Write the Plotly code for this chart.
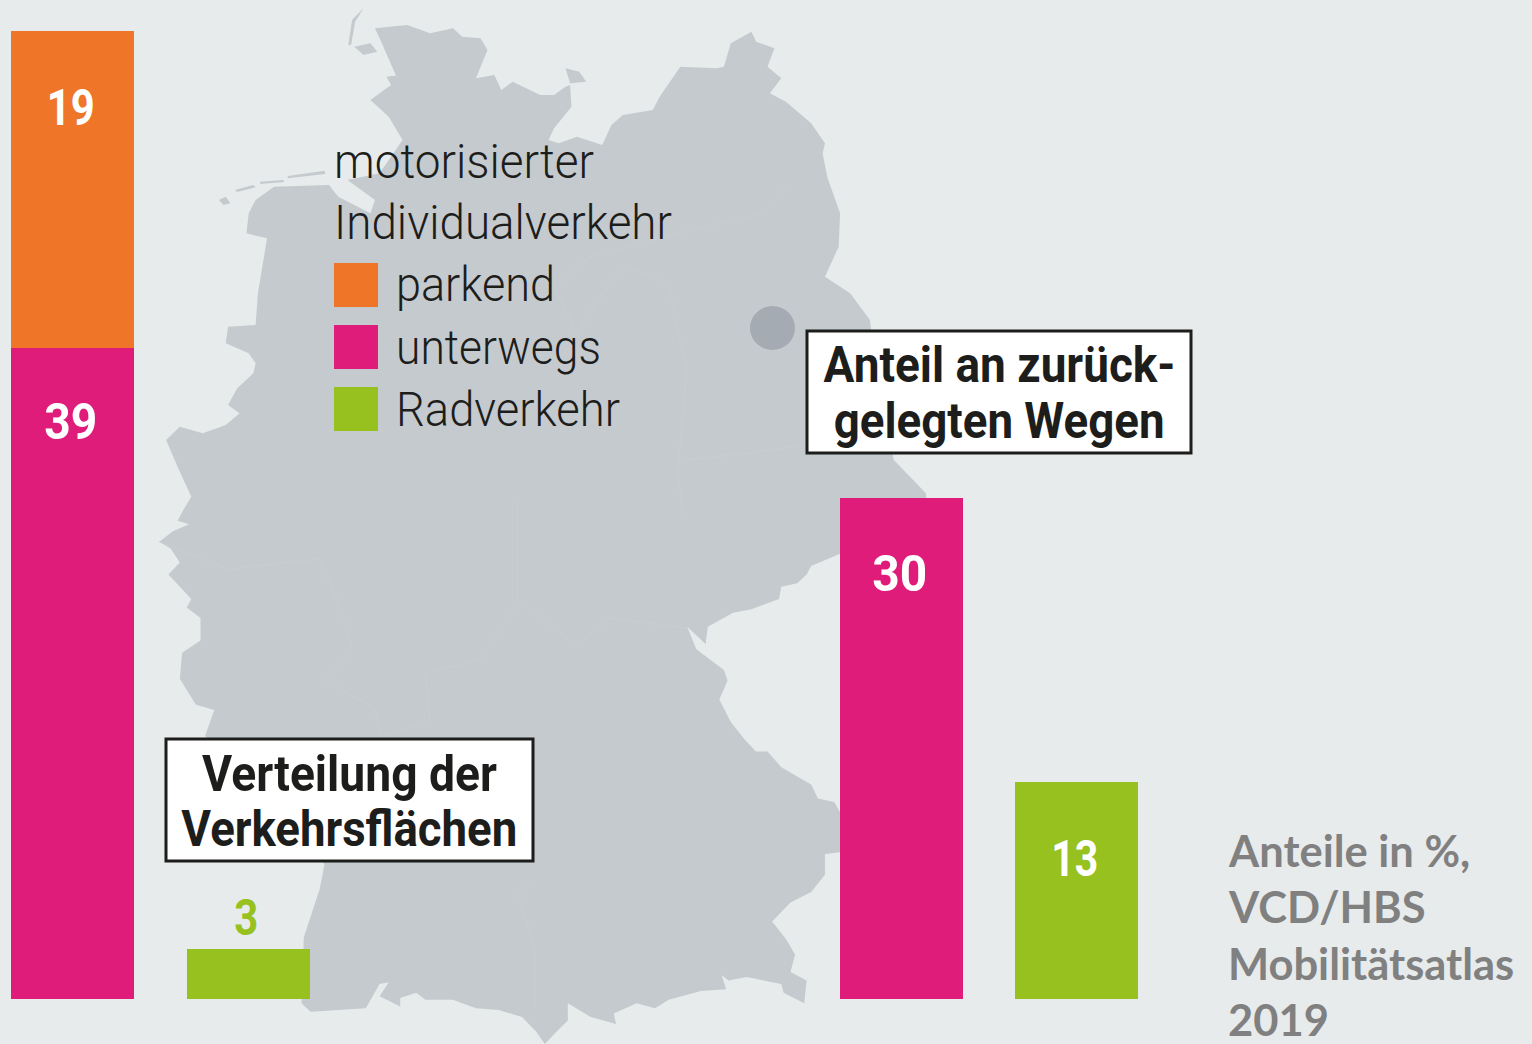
import json
import plotly.graph_objects as go

# ---- data -------------------------------------------------------------
area_categories = ["Kfz", "Rad"]
area_parked = [19, None]
area_moving = [39, None]
area_bike = [None, 3]

trip_categories = ["Kfz", "Rad"]
trip_moving = [30, None]
trip_bike = [None, 13]

legend_labels = ["parkend", "unterwegs", "Radverkehr"]
legend_title = ["motorisierter", "Individualverkehr"]
box_left = ["Verteilung der", "Verkehrsflächen"]
box_right = ["Anteil an zurück-", "gelegten Wegen"]
source_lines = ["Anteile in %,", "VCD/HBS", "Mobilitätsatlas", "2019"]

# ---- styles -----------------------------------------------------------
BG, LAND, CITY, SEAM = "#e7ebec", "#c5cace", "#a4abb2", "#c9ced2"
ORANGE, MAGENTA, GREEN = "#ef7628", "#e01c7a", "#96c11f"
INK, GREY = "#1d1d1b", "#808080"
W, H = 1532, 1044
FACE = "Roboto, sans-serif"

# the reference face is condensed: each string's rendered width (px)
fit_width = {
    "motorisierter": 260, "Individualverkehr": 338, "parkend": 159, "unterwegs": 205, "Radverkehr": 224,
    "Verteilung der": 295, "Verkehrsflächen": 336, "Anteil an zurück-": 352, "gelegten Wegen": 331,
    "19": 48, "39": 53, "30": 55, "13": 47, "3": 24,
}

# ---- decorative map backdrop, traced in crop coordinates --------------
north = [(490,85),(560,75),(610,100),(660,85),(680,110),(720,115),(735,150),(710,235),(750,225),(765,270),
         (790,245),(850,285),(880,285),(905,260),(915,255),(918,320),(880,385),(868,420),(890,430),(930,410),
         (985,435),(1005,375),(1030,345),(1095,330),(1110,290),(1155,200),(1235,205),(1250,200),(1265,130),
         (1310,95),(1320,125),(1360,145),(1345,200),(1375,235),(1350,280),(1385,305),(1440,370),(1470,430),
         (1465,460),(1475,530),(1503,640),(1500,740),(1470,830),(1525,880),(1568,960),(1580,1100),(1620,1380),(1690,1480)]
south = [(1700,200),(1503,155),(1440,190),(1430,215),(1410,240),(1375,250),(1370,285),(1310,315),(1270,325),
         (1215,365),(1210,415),(1170,365),(1190,430),(1250,490),(1258,520),(1240,575),(1265,640),(1295,690),
         (1320,725),(1345,725),(1375,770),(1440,820),(1455,860),(1490,870),(1503,900),(1503,1015),(1470,1020),
         (1470,1080),(1440,1130),(1395,1160),(1355,1215),(1385,1265),(1405,1310),(1395,1360),(1430,1385),
         (1425,1450),(1380,1420),(1375,1395),(1300,1375),(1260,1385),(1245,1370),(1255,1410),(1200,1415),
         (1130,1440),(1100,1465),(1060,1450),(1010,1480),(1015,1510),(960,1490),(910,1450),(910,1500),(880,1540),
         (860,1568),(840,1530),(810,1490),(760,1470),(710,1465),(660,1440),(600,1440),(580,1420),(545,1435),
         (545,1460),(500,1430),(520,1390),(500,1395),(470,1465),(350,1475),(330,1450),(335,1260),(370,1120),
         (380,1050),(120,680),(140,605),(100,590),(65,515),(70,440),(110,405),(110,340),(80,310),(90,285),
         (40,215),(65,180),(45,140),(20,120),(50,90),(85,70),(60,60),(85,0)]
north_west = [(60,1560),(90,1490),(60,1400),(35,1320),(65,1280),(115,1300),(165,1275),(195,1240),(170,1215),
              (190,1165),(225,1120),(230,1090),(215,1060),(165,1030),(170,980),(230,975),(235,880),(255,715),
              (210,700),(215,640),(230,600),(270,560),(390,555),(410,590),(480,640),(490,600),(430,540),(500,520),
              (550,420),(520,350),(480,300),(510,270),(540,240),(505,130)]
islands = [[(905,205),(935,215),(950,245),(915,250)],
           [(445,140),(480,130),(495,155),(465,165)],
           [(515,230),(545,225),(552,250),(525,255)],
           [(465,25),(440,60),(432,135),(438,135),(447,65)],
           [(150,600),(165,590),(175,610),(160,615)],
           [(185,570),(225,555),(230,562),(190,576)],
           [(240,545),(290,540),(292,546),(240,552)],
           [(300,528),(380,512),(382,522),(300,535)]]
seams_upper = [[(1000,850),(1030,795),(1130,850),(1150,1000),(1170,1100),(1150,1400),(1160,1560)],
               [(960,770),(880,860),(930,1000),(1000,850)],
               [(1160,1380),(1300,1360),(1500,1320)],
               [(1390,550),(1340,640),(1180,690),(960,770)]]
seams_lower = [[(20,120),(170,200),(370,170),(420,330),(440,430),(380,520),(490,600),(500,680)],
               [(800,0),(800,300),(720,460),(600,500),(610,640),(500,680)],
               [(810,300),(930,420),(1000,340),(1170,370)],
               [(840,1100),(800,1130),(840,1300),(840,1470)]]


def from_upper(p):
    return 150 + p[0] / 2.178, p[1] / 3.0


def from_lower(p):
    return 150 + p[0] / 2.178, 500 + p[1] / 2.882


def to_paper(x, y):
    return x / W, 1 - y / H


def path(points, closed=True):
    d = "M" + " L".join("{:.5f},{:.5f}".format(*to_paper(x, y)) for x, y in points)
    return d + " Z" if closed else d


page = dict(xref="paper", yref="paper")
outline = [from_upper(p) for p in north] + [from_lower(p) for p in south] + [from_upper(p) for p in north_west]
shapes = [dict(type="path", path=path(outline), fillcolor=LAND, line_width=0, layer="below", **page)]
for isle in islands:
    shapes.append(dict(type="path", path=path([from_upper(p) for p in isle]), fillcolor=LAND,
                       line_width=0, layer="below", **page))
for seam in seams_upper:
    shapes.append(dict(type="path", path=path([from_upper(p) for p in seam], False),
                       line=dict(color=SEAM, width=0.8), layer="below", **page))
for seam in seams_lower:
    shapes.append(dict(type="path", path=path([from_lower(p) for p in seam], False),
                       line=dict(color=SEAM, width=0.8), layer="below", **page))


def rect(x0, x1, y0, y1, **kw):
    px0, py0 = to_paper(x0, y0)
    px1, py1 = to_paper(x1, y1)
    return dict(x0=px0, x1=px1, y0=py0, y1=py1, **page, **kw)


shapes.append(rect(750, 795, 306, 350, type="circle", fillcolor=CITY, line_width=0, layer="below"))

# ---- figure -----------------------------------------------------------
fig = go.Figure()
opts = dict(width=0.7, hoverinfo="skip", marker_line_width=0)
fig.add_bar(x=area_categories, y=area_moving, marker_color=MAGENTA, xaxis="x", yaxis="y", **opts)
fig.add_bar(x=area_categories, y=area_parked, marker_color=ORANGE, xaxis="x", yaxis="y", **opts)
fig.add_bar(x=area_categories, y=area_bike, marker_color=GREEN, xaxis="x", yaxis="y", **opts)
fig.add_bar(x=trip_categories, y=trip_moving, marker_color=MAGENTA, xaxis="x2", yaxis="y", **opts)
fig.add_bar(x=trip_categories, y=trip_bike, marker_color=GREEN, xaxis="x2", yaxis="y", **opts)

hidden = dict(visible=False, showgrid=False, zeroline=False, fixedrange=True)
annotations = []


def value(num, xref, cat, y, color, yshift, xshift=-2):
    annotations.append(dict(text=str(num), x=cat, y=y, xref=xref, yref="y", showarrow=False,
                            yshift=yshift, xshift=xshift,
                            font=dict(family=FACE, size=50, color=color, weight=700)))


value(area_parked[0], "x", "Kfz", area_moving[0] + area_parked[0], "white", -77)
value(area_moving[0], "x", "Kfz", area_moving[0], "white", -74)
value(area_bike[1], "x", "Rad", area_bike[1], GREEN, 31)
value(trip_moving[0], "x2", "Kfz", trip_moving[0], "white", -76)
value(trip_bike[1], "x2", "Rad", trip_bike[1], "white", -77)


def page_text(text, x, y, size, color=INK, family=FACE, anchor="left", weight=400, height=None):
    px, py = to_paper(x, y)
    annotations.append(dict(text=text, x=px, y=py, showarrow=False, xanchor=anchor, yanchor="middle",
                            height=height, font=dict(family=family, size=size, color=color, weight=weight), **page))


page_text(legend_title[0], 332, 162, 49, weight=300)
page_text(legend_title[1], 332, 222, 49, weight=300)
swatches = [ORANGE, MAGENTA, GREEN]
for label, col, y in zip(legend_labels, swatches, [285, 347, 409]):
    shapes.append(rect(334, 378, y - 22, y + 22, type="rect", fillcolor=col, line_width=0))
    page_text(label, 394, y, 49, weight=300)

for x0, x1, y0, y1, lines, ys in [(166, 533, 739, 861, box_left, [774, 829]),
                                  (807, 1191, 331, 453, box_right, [365, 421])]:
    shapes.append(rect(x0, x1, y0, y1, type="rect", fillcolor="white", line=dict(color=INK, width=3)))
    for line, y in zip(lines, ys):
        page_text(line, (x0 + x1) / 2, y, 50, anchor="center", weight=700)

for line, y in zip(source_lines, [850, 906, 963, 1019]):
    page_text(line, 1226, y, 43.5, color=GREY, family="Lato, sans-serif", weight=700, height=48)

unit = 968 / 58  # pixels per percentage point
fig.update_layout(
    width=W, height=H, autosize=False, barmode="stack", showlegend=False,
    margin=dict(l=0, r=0, t=0, b=0), paper_bgcolor=BG, plot_bgcolor="rgba(0,0,0,0)",
    xaxis=dict(domain=[0, 336 / W], range=[-72.5 / 175.5, 1.5], type="category",
               categoryorder="array", categoryarray=area_categories, anchor="y", **hidden),
    xaxis2=dict(domain=[800 / W, 1200 / W], range=[-101.5 / 175, 1 + 123.5 / 175], type="category",
                categoryorder="array", categoryarray=trip_categories, anchor="y", **hidden),
    yaxis=dict(domain=[0, 1], range=[-(H - 999) / unit, 999 / unit], **hidden),
    shapes=shapes, annotations=annotations,
)

squeeze = """
document.body.style.margin = '0';
document.body.style.background = '%s';
var fit = %s, left = %s;
document.querySelectorAll('.annotation-text').forEach(function (t) {
  var want = fit[t.textContent];
  if (!want) return;
  var b = t.getBBox(), s = want / b.width;
  var a = left.indexOf(t.textContent) >= 0 ? b.x : b.x + b.width / 2;
  t.setAttribute('transform', 'translate(' + a * (1 - s) + ',0) scale(' + s + ',1)');
});
""" % (BG, json.dumps(fit_width, ensure_ascii=False), json.dumps(legend_title + legend_labels))
fig.write_html("out.html", config=dict(displayModeBar=False), post_script=squeeze)
